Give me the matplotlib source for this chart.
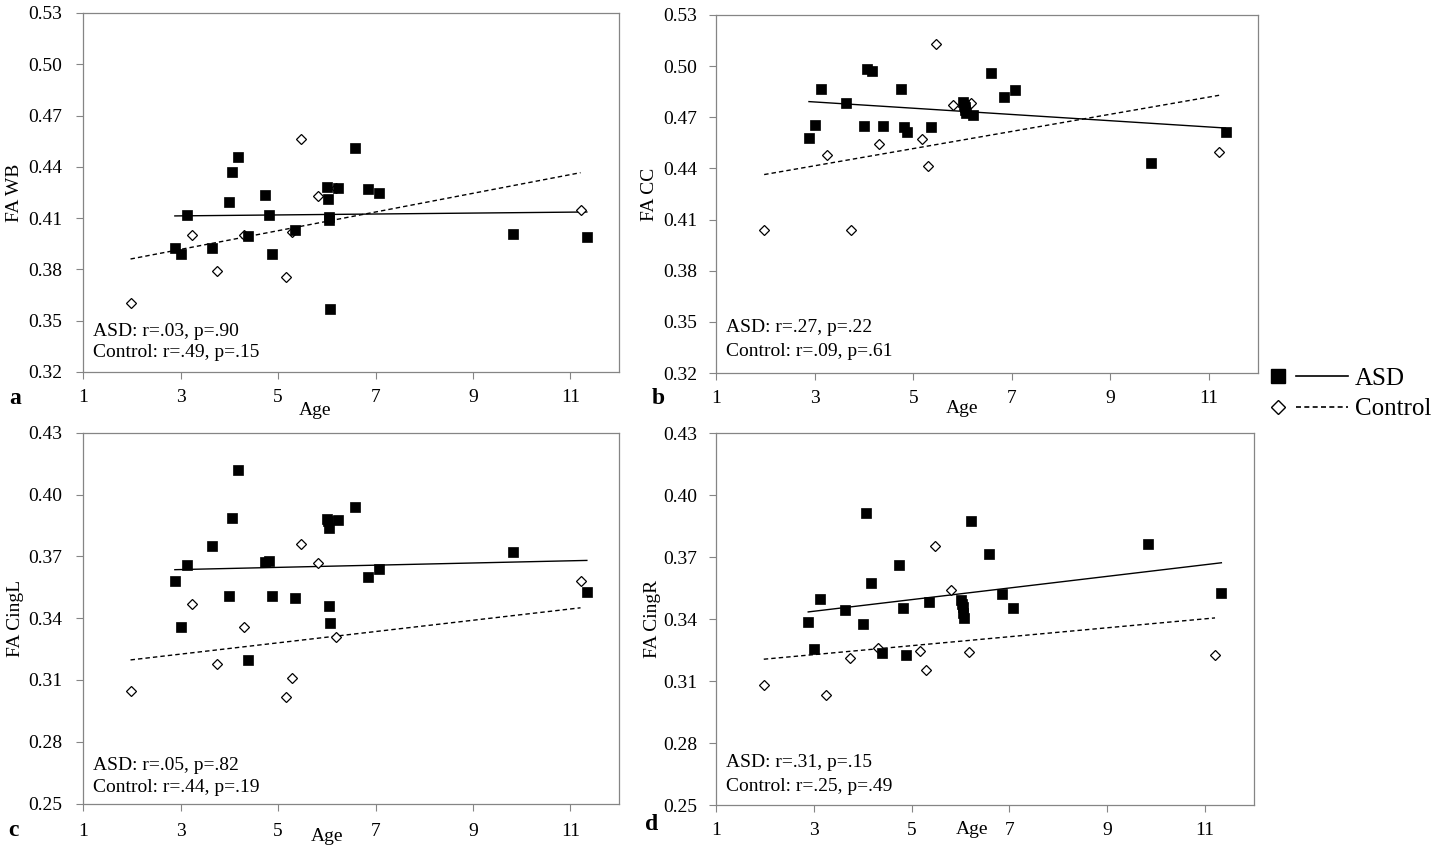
import matplotlib
matplotlib.use("Agg")
import matplotlib.pyplot as plt
from matplotlib.lines import Line2D
from matplotlib.legend_handler import HandlerTuple

plt.rcParams['font.family'] = ['Liberation Serif', 'DejaVu Serif']

# ---------------- data ----------------
asd_age = [2.88, 3.00, 3.13, 3.64, 4.00, 4.06, 4.17, 4.39, 4.74, 4.82, 4.88, 5.35,
           6.01, 6.03, 6.04, 6.05, 6.06, 6.22, 6.58, 6.85, 7.07, 9.83, 11.34]
ctrl_age = [1.97, 3.24, 3.74, 4.31, 5.17, 5.29, 5.47, 5.81, 6.18, 11.21]

asd_wb = [0.3928, 0.3889, 0.4117, 0.3926, 0.4195, 0.4368, 0.4458, 0.3994, 0.4234, 0.4117,
          0.3889, 0.4033, 0.4282, 0.4211, 0.4104, 0.4090, 0.3571, 0.4279, 0.4509, 0.4269,
          0.4247, 0.4010, 0.3988]
ctrl_wb = [0.3606, 0.4002, 0.3793, 0.4004, 0.3756, 0.4017, 0.4563, 0.4232, 0.4275, 0.4150]

asd_cc = [0.4580, 0.4656, 0.4868, 0.4786, 0.4647, 0.4986, 0.4974, 0.4647, 0.4868, 0.4643,
          0.4611, 0.4641, 0.4788, 0.4772, 0.4760, 0.4741, 0.4725, 0.4715, 0.4959, 0.4817,
          0.4859, 0.4429, 0.4611]
ctrl_cc = [0.4038, 0.4480, 0.4038, 0.4545, 0.4570, 0.4415, 0.5127, 0.4774, 0.4784, 0.4498]

asd_cingl = [0.3581, 0.3358, 0.3657, 0.3750, 0.3507, 0.3884, 0.4119, 0.3196, 0.3670, 0.3677,
             0.3507, 0.3499, 0.3880, 0.3872, 0.3836, 0.3460, 0.3378, 0.3876, 0.3939, 0.3599,
             0.3636, 0.3719, 0.3526]
ctrl_cingl = [0.3047, 0.3469, 0.3178, 0.3358, 0.3015, 0.3110, 0.3759, 0.3669, 0.3309, 0.3580]

asd_cingr = [0.3387, 0.3256, 0.3498, 0.3445, 0.3377, 0.3913, 0.3576, 0.3237, 0.3660, 0.3455,
             0.3227, 0.3481, 0.3493, 0.3475, 0.3461, 0.3429, 0.3405, 0.3876, 0.3716, 0.3521,
             0.3456, 0.3766, 0.3527]
ctrl_cingr = [0.3079, 0.3031, 0.3210, 0.3258, 0.3248, 0.3156, 0.3755, 0.3539, 0.3239, 0.3227]

# trend-line end values (at min and max age of each group)
asd_trend = {'a': [0.4113, 0.4136], 'b': [0.4792, 0.4637], 'c': [0.3635, 0.3680], 'd': [0.3435, 0.3673]}
ctrl_trend = {'a': [0.3861, 0.4366], 'b': [0.4364, 0.4829], 'c': [0.3197, 0.3450], 'd': [0.3206, 0.3406]}

ylabels = {'a': 'FA WB', 'b': 'FA CC', 'c': 'FA CingL', 'd': 'FA CingR'}
stats = {'a': ['ASD: r=.03, p=.90', 'Control: r=.49, p=.15'],
         'b': ['ASD: r=.27, p=.22', 'Control: r=.09, p=.61'],
         'c': ['ASD: r=.05, p=.82', 'Control: r=.44, p=.19'],
         'd': ['ASD: r=.31, p=.15', 'Control: r=.25, p=.49']}
yticks_top = [0.32, 0.35, 0.38, 0.41, 0.44, 0.47, 0.50, 0.53]
yticks_bot = [0.25, 0.28, 0.31, 0.34, 0.37, 0.40, 0.43]
xticks = [1, 3, 5, 7, 9, 11]

# ---------------- layout ----------------
W, H = 1437, 848
fig = plt.figure(figsize=(W / 100, H / 100), dpi=100)

def box(l, r, t, b):
    return [l / W, 1 - b / H, (r - l) / W, (b - t) / H]

panels = {
    'a': dict(rect=box(83.3, 619, 13, 372), asd=asd_wb, ctrl=ctrl_wb, yt=yticks_top,
              txt_y=(0.114, 0.053), ylab_x=-0.128, age=(0.4325, -0.108), xpad=7, ypad=10),
    'b': dict(rect=box(716.4, 1258, 15, 373), asd=asd_cc, ctrl=ctrl_cc, yt=yticks_top,
              txt_y=(0.126, 0.059), ylab_x=-0.123, age=(0.4535, -0.100), xpad=7, ypad=8.6),
    'c': dict(rect=box(83.3, 619, 432.7, 803.5), asd=asd_cingl, ctrl=ctrl_cingl, yt=yticks_bot,
              txt_y=(0.102, 0.043), ylab_x=-0.126, age=(0.455, -0.088), xpad=9, ypad=10),
    'd': dict(rect=box(716.4, 1253.6, 433.3, 805), asd=asd_cingr, ctrl=ctrl_cingr, yt=yticks_bot,
              txt_y=(0.113, 0.049), ylab_x=-0.119, age=(0.476, -0.067), xpad=7, ypad=8.6),
}
letter_pos = {'a': (15, 398), 'b': (658, 398), 'c': (13, 831), 'd': (652, 825)}

spine_col = '#858585'
for key, p in panels.items():
    ax = fig.add_axes(p['rect'])
    # trend lines
    ax.plot([min(asd_age), max(asd_age)], asd_trend[key], color='black', lw=1.0, zorder=2)
    ax.plot([min(ctrl_age), max(ctrl_age)], ctrl_trend[key], color='black', lw=1.0,
            linestyle=(0, (3.2, 2.2)), zorder=2)
    # points
    ax.plot(ctrl_age, p['ctrl'], linestyle='none', marker='D', markersize=5.3,
            markerfacecolor='white', markeredgecolor='black', markeredgewidth=0.9, zorder=3)
    ax.plot(asd_age, p['asd'], linestyle='none', marker='s', markersize=7.4,
            markerfacecolor='black', markeredgecolor='black', markeredgewidth=0.5, zorder=4)

    ax.set_xlim(1, 12)
    ax.set_ylim(p['yt'][0], p['yt'][-1])
    ax.set_xticks(xticks)
    ax.set_xticklabels([str(v) for v in xticks])
    ax.set_yticks(p['yt'])
    ax.set_yticklabels([f"{v:.2f}" for v in p['yt']])
    ax.tick_params(axis='x', direction='out', length=5, width=0.8, color=spine_col,
                   labelsize=14, pad=p['xpad'])
    ax.tick_params(axis='y', direction='out', length=5, width=0.8, color=spine_col,
                   labelsize=14, pad=p['ypad'])
    for s in ax.spines.values():
        s.set_color(spine_col)
        s.set_linewidth(0.9)

    ax.set_ylabel(ylabels[key], fontsize=14)
    ax.yaxis.set_label_coords(p['ylab_x'], 0.5)
    ax.yaxis.label.set_va('center')
    ax.set_xlabel('Age', fontsize=14)
    ax.xaxis.set_label_coords(*p['age'])
    ax.xaxis.label.set_va('center')

    ax.text(0.018, p['txt_y'][0], stats[key][0], transform=ax.transAxes,
            fontsize=14, ha='left', va='center')
    ax.text(0.018, p['txt_y'][1], stats[key][1], transform=ax.transAxes,
            fontsize=14, ha='left', va='center')

    lx, ly = letter_pos[key]
    fig.text(lx / W, 1 - ly / H, key, fontsize=17, fontweight='bold', ha='center', va='center')

# legend
h_sq = Line2D([], [], linestyle='none', marker='s', markersize=10.5, color='black')
h_solid = Line2D([], [], color='black', lw=1.2)
h_dia = Line2D([], [], linestyle='none', marker='D', markersize=7.5, markerfacecolor='white',
               markeredgecolor='black', markeredgewidth=1.0)
h_dash = Line2D([], [], color='black', lw=1.2, linestyle=(0, (3, 2)))
fig.legend(handles=[(h_sq, h_solid), (h_dia, h_dash)], labels=['ASD', 'Control'],
           handler_map={tuple: HandlerTuple(ndivide=None, pad=-0.32)},
           loc='center left', bbox_to_anchor=(1252 / W, 1 - 394 / H),
           frameon=False, fontsize=18, handlelength=3.84, handletextpad=0.28,
           labelspacing=0.32, borderpad=0.0, borderaxespad=0.0)

fig.savefig('out.png', dpi=100)
